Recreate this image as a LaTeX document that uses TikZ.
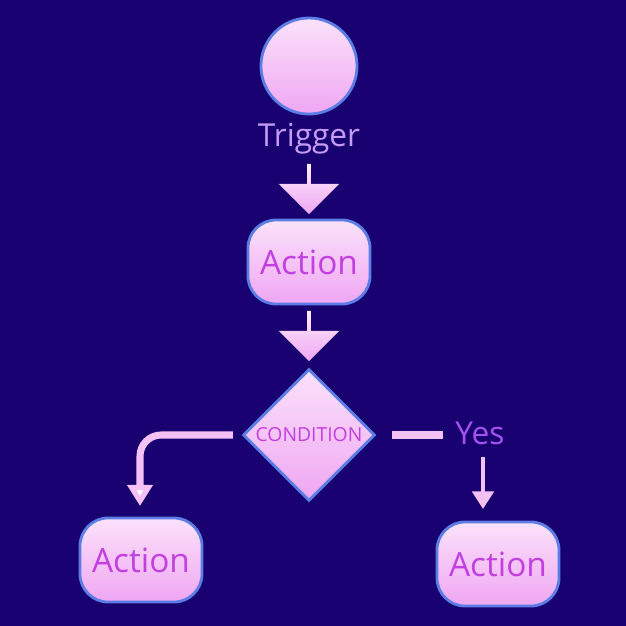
\documentclass[tikz,border=0pt]{standalone}
\usepackage{fontspec}
\setmainfont{Open Sans}
\usetikzlibrary{arrows.meta, shapes.geometric, shapes.arrows}
\definecolor{bgblue}{HTML}{190070}
\definecolor{pinklight}{HTML}{FBE2FB}
\definecolor{pinkdeep}{HTML}{EFA6F2}
\definecolor{rimblue}{HTML}{5C7CE6}
\definecolor{textmag}{HTML}{C23FE0}
\definecolor{lav}{HTML}{C49CF6}
\definecolor{yesviolet}{HTML}{A452F2}
\tikzset{
	box/.style={rectangle, rounded corners=8pt, minimum width=1.22cm, minimum height=0.84cm,
		draw=rimblue, line width=0.8pt, top color=pinklight, bottom color=pinkdeep,
		text=textmag, font=\fontsize{9.5}{11}\selectfont},
	fat/.style={single arrow, shape border rotate=270, minimum width=0.6cm, minimum height=0.5cm,
		single arrow head extend=0.1cm, inner sep=0pt, top color=pinklight!60!white, bottom color=pinkdeep},
	link/.style={line width=2pt, pinkdeep!70!white, rounded corners=6pt}
}
\begin{document}
\begin{tikzpicture}[x=0.01cm, y=-0.01cm]
			% background
			\fill[bgblue] (0,0) rectangle (626,626);
			
			% trigger circle and label
			\node[circle, minimum size=0.96cm, draw=rimblue, line width=0.8pt,
				top color=pinklight, bottom color=pinkdeep] (trig) at (309,66) {};
			\node[lav, font=\fontsize{9}{11}\selectfont] (triglbl) at (309,139) {Trigger};
			
			% main chain
			\node[fat] (fat1) at (309,188) {};
			\node[box] (act1) at (309,262) {Action};
			\node[fat] (fat2) at (309,335) {};
			\node[diamond, minimum width=1.32cm, minimum height=1.32cm, inner sep=0pt,
				draw=rimblue, line width=0.8pt, top color=pinklight, bottom color=pinkdeep,
				text=textmag, font=\fontsize{5.5}{7}\selectfont] (cond) at (309,435) {CONDITION};
			
			% branches
			\node[box] (actL) at (141,560) {Action};
			\node[box] (actR) at (498,564) {Action};
			\node[yesviolet, font=\fontsize{9}{11}\selectfont] (yes) at (480,433) {Yes};
			\coordinate (lstart) at (233,435);
			\coordinate (lend) at (140,506);
			\coordinate (rstart) at (392,435);
			\coordinate (rend) at (443,435);
			\coordinate (ytip) at (483,509);
			
			\draw[link, -{Triangle[width=7pt,length=6pt,fill=white]}] (lstart) -| (lend);
			\draw[link, line width=2.5pt, left color=white, right color=pinkdeep] (rstart) -- (rend);
			\draw[link, line width=1.3pt, -{Triangle[width=6pt,length=5pt]}] (yes.south -| ytip) -- (ytip);
		\end{tikzpicture}
\end{document}
